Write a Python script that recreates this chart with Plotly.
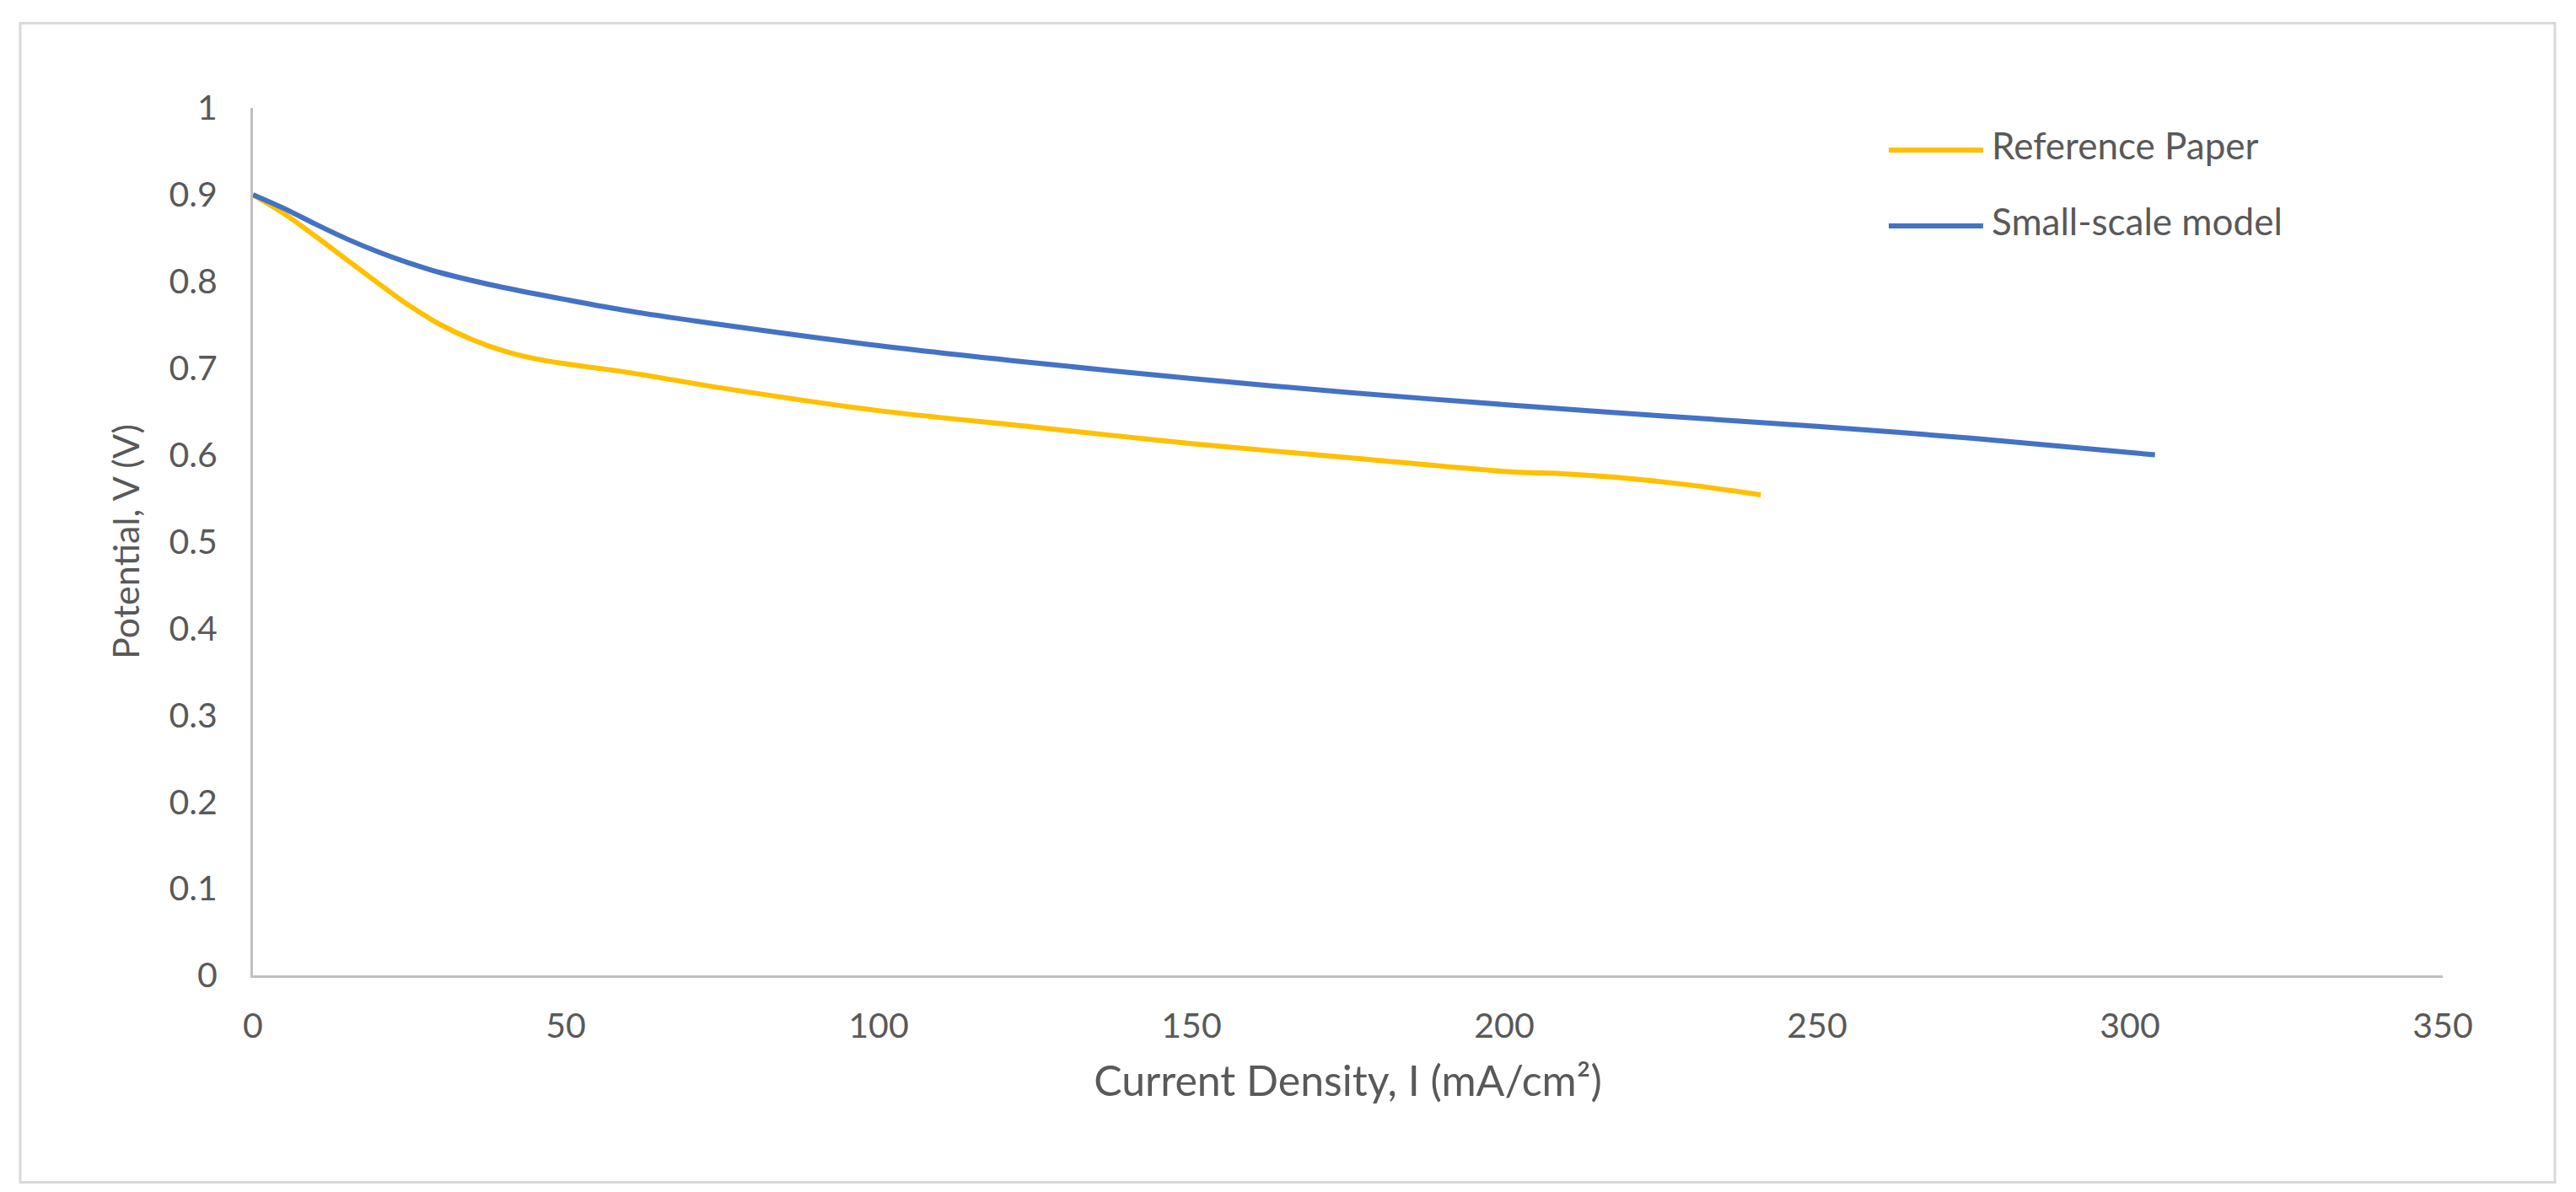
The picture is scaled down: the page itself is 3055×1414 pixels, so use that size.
import plotly.graph_objects as go

# Polarisation curves
ref_paper_i = [0, 5, 10, 15, 20, 25, 30, 35, 40, 45, 50, 55, 60, 75, 100, 125, 150, 175, 200, 210, 218, 230, 241]
ref_paper_v = [0.900, 0.878, 0.852, 0.825, 0.798, 0.772, 0.750, 0.733, 0.720, 0.711, 0.705, 0.700, 0.695, 0.677, 0.651, 0.632, 0.613, 0.597, 0.581, 0.578, 0.574, 0.565, 0.554]

model_i = [0, 5, 10, 15, 20, 25, 30, 35, 40, 50, 60, 75, 100, 125, 150, 175, 200, 225, 250, 275, 304]
model_v = [0.900, 0.884, 0.866, 0.849, 0.834, 0.821, 0.810, 0.801, 0.793, 0.779, 0.766, 0.750, 0.726, 0.706, 0.688, 0.672, 0.658, 0.645, 0.633, 0.619, 0.600]

series_names = ["Reference Paper", "Small-scale model"]
series_colors = ["#FFC000", "#4472C4"]

y_ticks = [0, 0.1, 0.2, 0.3, 0.4, 0.5, 0.6, 0.7, 0.8, 0.9, 1]
y_tick_labels = ["0", "0.1", "0.2", "0.3", "0.4", "0.5", "0.6", "0.7", "0.8", "0.9", "1"]
x_ticks = [0, 50, 100, 150, 200, 250, 300, 350]

FONT = "Lato, 'Open Sans', sans-serif"
TEXT_COLOR = "#595959"
AXIS_COLOR = "#BFBFBF"

fig = go.Figure()

for xs, ys, name, color in zip(
    [ref_paper_i, model_i], [ref_paper_v, model_v], series_names, series_colors
):
    fig.add_trace(go.Scatter(
        x=xs,
        y=ys,
        mode="lines",
        name=name,
        line=dict(color=color, width=6, shape="spline", smoothing=0.9),
        showlegend=False,
    ))

# legend drawn by hand so the line samples are as long as in the original
legend_y = [0.9514, 0.8640]
for name, color, ly in zip(series_names, series_colors, legend_y):
    fig.add_shape(
        type="line", xref="paper", yref="paper",
        x0=0.7470, x1=0.7901, y0=ly, y1=ly,
        line=dict(color=color, width=6),
    )
    fig.add_annotation(
        xref="paper", yref="paper", x=0.7932, y=ly, yshift=6,
        text=name, showarrow=False, xanchor="left", yanchor="middle",
        font=dict(family=FONT, size=44, color=TEXT_COLOR),
    )

# chart frame
fig.add_shape(
    type="rect", xref="paper", yref="paper",
    x0=-0.1063, x1=1.0512, y0=-0.2386, y1=1.0977,
    line=dict(color="#D9D9D9", width=3),
    fillcolor="rgba(0,0,0,0)", layer="below",
)

fig.update_layout(
    width=3055,
    height=1414,
    margin=dict(l=292, r=166, t=120, b=265),
    plot_bgcolor="white",
    paper_bgcolor="white",
    font=dict(family=FONT, size=41, color=TEXT_COLOR),
    xaxis=dict(
        range=[0, 350],
        tickvals=x_ticks,
        ticks="outside", ticklen=22, tickcolor="rgba(0,0,0,0)",
        showgrid=False, zeroline=False,
        showline=True, linecolor=AXIS_COLOR, linewidth=3,
        tickfont=dict(family=FONT, size=41, color=TEXT_COLOR),
        title=dict(
            text="Current Density, I (mA/cm²)",
            font=dict(family=FONT, size=50, color=TEXT_COLOR),
            standoff=26,
        ),
    ),
    yaxis=dict(
        range=[0, 1],
        tickvals=y_ticks,
        ticktext=y_tick_labels,
        ticks="outside", ticklen=31, tickcolor="rgba(0,0,0,0)",
        showgrid=False, zeroline=False,
        showline=True, linecolor=AXIS_COLOR, linewidth=3,
        tickfont=dict(family=FONT, size=41, color=TEXT_COLOR),
        title=dict(
            text="Potential, V (V)",
            font=dict(family=FONT, size=43, color=TEXT_COLOR),
            standoff=22,
        ),
    ),
)

fig.write_html("out.html")
